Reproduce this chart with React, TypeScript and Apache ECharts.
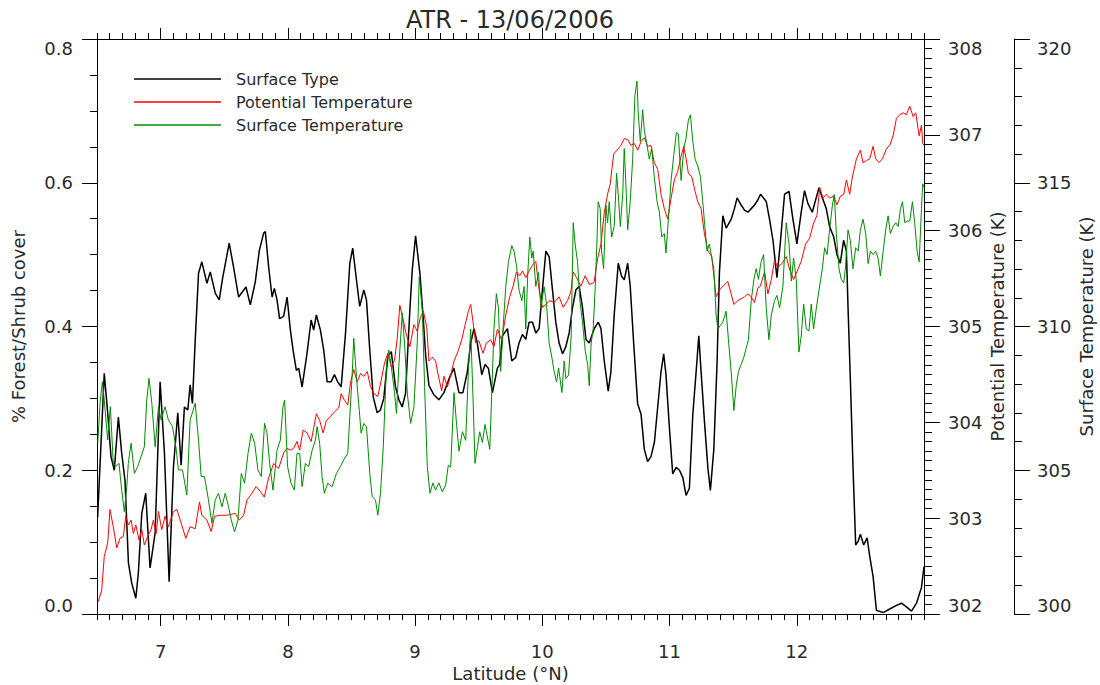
import React, { useEffect, useRef } from "react";
import * as echarts from "echarts";

const titleText = "ATR - 13/06/2006";
const seriesNames = ["Surface Type", "Potential Temperature", "Surface Temperature"];
const latTicks = [7, 8, 9, 10, 11, 12];

// [latitude (°N), forest/shrub cover fraction]
const forestCover: [number, number][] = [
  [6.505,0.135],[6.557,0.335],[6.584,0.28],[6.61,0.219],[6.636,0.2],[6.668,0.274],[6.694,0.224],[6.72,0.186],[6.747,0.071],[6.773,0.043],[6.805,0.022],[6.825,0.057],[6.852,0.14],[6.883,0.168],[6.917,0.064],[6.957,0.113],[6.996,0.323],[7.03,0.224],[7.067,0.045],[7.101,0.205],[7.135,0.28],[7.161,0.207],[7.187,0.288],[7.214,0.284],[7.232,0.319],[7.25,0.293],[7.272,0.381],[7.298,0.474],[7.324,0.49],[7.364,0.46],[7.39,0.476],[7.43,0.446],[7.461,0.437],[7.487,0.467],[7.539,0.516],[7.573,0.483],[7.613,0.441],[7.671,0.455],[7.705,0.43],[7.744,0.462],[7.776,0.506],[7.81,0.53],[7.823,0.532],[7.849,0.483],[7.876,0.441],[7.894,0.453],[7.915,0.437],[7.935,0.411],[7.967,0.414],[7.994,0.441],[8.02,0.395],[8.041,0.367],[8.067,0.339],[8.085,0.342],[8.112,0.316],[8.151,0.363],[8.183,0.409],[8.203,0.395],[8.224,0.416],[8.256,0.395],[8.282,0.367],[8.309,0.323],[8.34,0.323],[8.366,0.333],[8.392,0.323],[8.419,0.316],[8.453,0.39],[8.487,0.488],[8.51,0.509],[8.539,0.465],[8.565,0.428],[8.597,0.451],[8.618,0.437],[8.644,0.367],[8.671,0.302],[8.702,0.28],[8.728,0.284],[8.754,0.3],[8.786,0.358],[8.813,0.365],[8.846,0.316],[8.873,0.298],[8.899,0.288],[8.925,0.307],[8.959,0.423],[8.978,0.479],[9.004,0.526],[9.038,0.474],[9.065,0.409],[9.083,0.36],[9.109,0.318],[9.148,0.305],[9.187,0.298],[9.227,0.308],[9.266,0.327],[9.305,0.342],[9.345,0.308],[9.376,0.308],[9.411,0.337],[9.437,0.377],[9.463,0.397],[9.489,0.377],[9.524,0.333],[9.55,0.347],[9.576,0.342],[9.608,0.308],[9.647,0.342],[9.665,0.347],[9.687,0.387],[9.726,0.397],[9.76,0.352],[9.791,0.357],[9.817,0.377],[9.844,0.389],[9.87,0.382],[9.896,0.406],[9.923,0.406],[9.949,0.391],[9.975,0.397],[10.001,0.451],[10.028,0.505],[10.054,0.497],[10.08,0.451],[10.106,0.406],[10.132,0.377],[10.159,0.362],[10.185,0.372],[10.211,0.391],[10.237,0.426],[10.264,0.451],[10.29,0.456],[10.316,0.426],[10.343,0.382],[10.369,0.377],[10.408,0.397],[10.44,0.406],[10.461,0.397],[10.487,0.352],[10.518,0.31],[10.539,0.337],[10.565,0.416],[10.597,0.488],[10.623,0.47],[10.644,0.465],[10.671,0.488],[10.691,0.456],[10.718,0.377],[10.749,0.293],[10.776,0.278],[10.802,0.229],[10.828,0.212],[10.854,0.219],[10.881,0.239],[10.907,0.288],[10.933,0.337],[10.954,0.362],[10.972,0.333],[10.999,0.259],[11.025,0.195],[11.052,0.204],[11.078,0.2],[11.104,0.19],[11.13,0.165],[11.156,0.175],[11.183,0.278],[11.209,0.337],[11.23,0.387],[11.248,0.337],[11.274,0.269],[11.301,0.204],[11.321,0.172],[11.348,0.229],[11.374,0.352],[11.392,0.475],[11.419,0.554],[11.445,0.537],[11.484,0.549],[11.51,0.564],[11.531,0.579],[11.563,0.569],[11.589,0.562],[11.616,0.559],[11.642,0.564],[11.668,0.569],[11.694,0.576],[11.715,0.584],[11.76,0.574],[11.786,0.549],[11.813,0.52],[11.844,0.468],[11.87,0.515],[11.904,0.584],[11.939,0.588],[11.97,0.549],[12.001,0.515],[12.035,0.559],[12.061,0.589],[12.088,0.571],[12.122,0.559],[12.148,0.576],[12.175,0.593],[12.201,0.579],[12.232,0.564],[12.258,0.539],[12.29,0.525],[12.316,0.5],[12.342,0.488],[12.368,0.52],[12.39,0.505],[12.403,0.426],[12.421,0.327],[12.442,0.204],[12.463,0.096],[12.482,0.101],[12.5,0.111],[12.526,0.096],[12.553,0.106],[12.573,0.081],[12.6,0.052],[12.626,0.005],[12.679,0.002],[12.731,0.007],[12.783,0.012],[12.823,0.015],[12.862,0.01],[12.902,0.004],[12.941,0.015],[12.98,0.037],[13.0,0.066]
];

// [latitude (°N), potential temperature (K)]
const potentialTemp: [number, number][] = [
  [6.51,302.13],[6.537,302.25],[6.557,302.6],[6.584,302.74],[6.602,303.09],[6.628,302.91],[6.655,302.69],[6.681,302.79],[6.707,302.81],[6.726,303.02],[6.746,302.93],[6.768,302.98],[6.786,302.84],[6.805,302.93],[6.831,302.77],[6.852,302.88],[6.872,302.72],[6.899,302.81],[6.925,302.88],[6.943,302.98],[6.965,302.84],[6.983,303.07],[7.009,302.88],[7.035,303.02],[7.061,302.91],[7.101,303.07],[7.128,303.09],[7.161,302.95],[7.198,302.79],[7.232,302.91],[7.272,302.89],[7.306,303.17],[7.324,303.03],[7.364,302.98],[7.398,302.86],[7.424,303.02],[7.469,303.03],[7.521,303.03],[7.587,303.05],[7.618,302.98],[7.652,303.03],[7.679,303.19],[7.718,303.26],[7.75,303.33],[7.783,303.28],[7.815,303.22],[7.849,303.42],[7.888,303.57],[7.928,303.52],[7.967,303.68],[7.994,303.73],[8.02,303.71],[8.046,303.73],[8.072,303.8],[8.093,303.71],[8.12,303.92],[8.151,303.89],[8.183,303.8],[8.203,303.94],[8.224,304.09],[8.25,304.02],[8.277,303.89],[8.303,304.02],[8.335,304.06],[8.366,304.11],[8.4,304.15],[8.419,304.3],[8.445,304.23],[8.471,304.18],[8.492,304.41],[8.518,304.55],[8.545,304.42],[8.571,304.51],[8.597,304.48],[8.624,304.53],[8.65,304.37],[8.676,304.3],[8.707,304.27],[8.734,304.44],[8.76,304.62],[8.786,304.72],[8.813,304.58],[8.839,304.65],[8.86,304.88],[8.88,305.22],[8.907,305.07],[8.925,304.95],[8.959,304.79],[8.991,305.02],[9.017,304.95],[9.043,305.1],[9.065,305.16],[9.091,305.0],[9.109,304.64],[9.135,304.68],[9.161,304.64],[9.187,304.46],[9.209,304.33],[9.227,304.48],[9.254,304.37],[9.28,304.49],[9.306,304.64],[9.34,304.75],[9.366,304.86],[9.392,305.01],[9.419,305.16],[9.437,305.23],[9.455,305.05],[9.476,304.83],[9.502,304.85],[9.534,304.72],[9.561,304.83],[9.594,304.86],[9.62,304.79],[9.647,304.97],[9.681,304.86],[9.713,305.12],[9.744,305.31],[9.77,305.42],[9.797,305.57],[9.823,305.53],[9.844,305.58],[9.87,305.51],[9.896,305.58],[9.923,305.64],[9.949,305.68],[9.975,305.38],[10.002,305.2],[10.028,305.23],[10.059,305.27],[10.093,305.25],[10.132,305.31],[10.164,305.2],[10.198,305.27],[10.224,305.36],[10.243,305.57],[10.269,305.51],[10.303,305.42],[10.337,305.53],[10.369,305.44],[10.395,305.45],[10.408,305.47],[10.435,305.71],[10.461,305.86],[10.487,306.19],[10.513,306.38],[10.534,306.49],[10.561,306.8],[10.587,306.84],[10.618,306.89],[10.644,306.96],[10.671,306.95],[10.697,306.89],[10.723,306.91],[10.75,306.84],[10.776,306.93],[10.802,306.97],[10.828,306.88],[10.854,306.89],[10.88,306.71],[10.907,306.64],[10.933,306.38],[10.959,306.23],[10.986,306.12],[11.012,306.34],[11.038,306.53],[11.065,306.62],[11.091,306.78],[11.112,306.88],[11.13,306.75],[11.148,306.6],[11.175,306.56],[11.201,306.41],[11.222,306.3],[11.248,306.23],[11.274,305.97],[11.301,305.79],[11.332,305.73],[11.366,305.31],[11.392,305.38],[11.419,305.42],[11.458,305.47],[11.484,305.34],[11.506,305.23],[11.537,305.27],[11.563,305.29],[11.589,305.31],[11.616,305.34],[11.642,305.31],[11.668,305.25],[11.694,305.4],[11.713,305.42],[11.747,305.57],[11.773,305.34],[11.8,305.49],[11.825,305.69],[11.852,305.62],[11.886,305.66],[11.917,305.73],[11.943,305.6],[11.975,305.49],[12.001,305.57],[12.035,305.68],[12.069,305.86],[12.101,305.92],[12.132,306.08],[12.159,306.16],[12.18,306.45],[12.206,306.34],[12.232,306.38],[12.258,306.34],[12.29,306.36],[12.316,306.27],[12.343,306.36],[12.369,306.38],[12.39,306.53],[12.416,306.38],[12.437,306.56],[12.469,306.75],[12.5,306.84],[12.521,306.71],[12.547,306.73],[12.573,306.75],[12.6,306.88],[12.62,306.75],[12.647,306.71],[12.673,306.75],[12.706,306.86],[12.731,306.89],[12.757,306.99],[12.783,307.17],[12.809,307.21],[12.836,307.23],[12.862,307.21],[12.888,307.3],[12.915,307.19],[12.935,307.23],[12.962,306.99],[12.98,307.1],[12.99,306.91],[13.0,306.89]
];

// [latitude (°N), surface temperature (K)]
const surfaceTemp: [number, number][] = [
  [6.506,305.94],[6.524,307.33],[6.542,308.08],[6.557,307.44],[6.584,306.05],[6.605,307.21],[6.628,305.24],[6.647,305.13],[6.673,305.24],[6.694,304.31],[6.715,303.56],[6.734,304.43],[6.746,305.24],[6.768,305.94],[6.794,304.89],[6.82,305.13],[6.846,305.47],[6.872,305.82],[6.891,307.44],[6.909,308.2],[6.931,307.33],[6.957,305.82],[6.983,307.21],[7.004,306.75],[7.035,307.21],[7.061,306.75],[7.093,306.52],[7.12,305.82],[7.14,305.01],[7.172,305.01],[7.206,304.14],[7.232,306.75],[7.272,307.33],[7.298,306.05],[7.319,304.78],[7.345,304.78],[7.376,303.97],[7.403,303.16],[7.429,303.97],[7.455,304.2],[7.482,303.73],[7.508,304.2],[7.534,303.73],[7.555,303.27],[7.581,302.86],[7.608,303.27],[7.634,304.89],[7.66,304.55],[7.687,305.59],[7.713,306.29],[7.739,305.94],[7.765,305.01],[7.791,304.78],[7.817,306.63],[7.836,306.29],[7.857,305.24],[7.883,304.31],[7.915,305.7],[7.941,306.05],[7.962,307.21],[7.975,307.44],[7.998,305.13],[8.025,304.55],[8.051,304.31],[8.072,305.59],[8.093,305.59],[8.112,304.43],[8.138,305.24],[8.164,305.13],[8.191,305.7],[8.217,306.05],[8.23,306.52],[8.25,305.94],[8.269,304.78],[8.287,304.2],[8.313,304.55],[8.348,304.43],[8.382,304.89],[8.413,305.13],[8.439,305.36],[8.471,305.59],[8.487,306.86],[8.506,308.37],[8.518,309.59],[8.539,308.25],[8.561,307.1],[8.576,306.29],[8.597,306.63],[8.618,306.52],[8.644,304.89],[8.663,304.08],[8.689,303.97],[8.707,303.44],[8.728,304.2],[8.75,305.82],[8.776,308.72],[8.794,309.18],[8.813,308.6],[8.833,307.91],[8.854,306.98],[8.872,308.6],[8.899,310.46],[8.917,309.42],[8.939,307.68],[8.965,306.63],[8.991,307.21],[9.017,309.42],[9.033,311.73],[9.057,310.57],[9.075,307.91],[9.096,305.13],[9.117,304.2],[9.14,304.56],[9.161,304.31],[9.187,304.56],[9.214,304.25],[9.24,304.49],[9.261,305.17],[9.28,305.11],[9.306,307.7],[9.324,306.71],[9.345,305.66],[9.372,306.34],[9.398,306.04],[9.419,308.44],[9.437,309.91],[9.455,307.57],[9.471,305.24],[9.49,305.79],[9.508,306.34],[9.529,305.97],[9.55,306.59],[9.571,306.09],[9.587,305.73],[9.602,307.57],[9.62,309.91],[9.639,311.14],[9.655,310.65],[9.673,308.44],[9.691,309.91],[9.713,311.39],[9.734,312.25],[9.76,312.81],[9.778,312.62],[9.797,312.13],[9.817,311.27],[9.839,310.9],[9.857,311.39],[9.87,309.91],[9.886,311.88],[9.902,313.11],[9.917,312.38],[9.928,312.62],[9.949,311.39],[9.97,311.88],[9.988,310.65],[10.014,311.39],[10.033,310.78],[10.054,309.42],[10.075,308.93],[10.093,308.44],[10.112,308.07],[10.128,308.56],[10.154,307.7],[10.172,308.8],[10.185,308.19],[10.206,308.31],[10.227,309.67],[10.243,313.61],[10.258,312.87],[10.277,312.25],[10.295,310.9],[10.316,310.16],[10.337,309.17],[10.356,308.68],[10.369,307.94],[10.384,309.42],[10.4,309.91],[10.416,311.39],[10.429,312.87],[10.439,314.34],[10.455,314.1],[10.466,312.62],[10.482,312.01],[10.5,314.22],[10.513,313.61],[10.526,314.34],[10.545,313.11],[10.565,313.48],[10.584,315.33],[10.597,314.59],[10.613,313.48],[10.632,314.59],[10.644,316.19],[10.657,314.96],[10.671,313.36],[10.691,314.34],[10.71,315.82],[10.728,318.04],[10.744,318.53],[10.754,317.42],[10.77,316.44],[10.789,317.54],[10.802,316.81],[10.823,316.31],[10.841,315.82],[10.86,316.19],[10.88,315.21],[10.902,314.34],[10.92,313.98],[10.939,313.11],[10.959,313.23],[10.972,312.56],[10.991,313.73],[11.012,315.08],[11.033,315.95],[11.054,316.75],[11.069,316.69],[11.091,315.08],[11.112,316.19],[11.13,316.56],[11.148,317.18],[11.164,317.36],[11.183,316.44],[11.201,315.82],[11.222,315.58],[11.243,315.21],[11.261,314.34],[11.28,313.36],[11.295,312.62],[11.313,312.87],[11.332,312.38],[11.348,312.01],[11.366,310.4],[11.38,309.91],[11.4,310.04],[11.419,310.16],[11.445,310.53],[11.463,309.54],[11.484,308.44],[11.506,307.08],[11.524,307.94],[11.542,308.44],[11.563,308.68],[11.584,308.93],[11.602,309.24],[11.62,309.54],[11.642,310.9],[11.663,311.64],[11.681,312.01],[11.699,311.64],[11.715,312.13],[11.72,312.25],[11.739,312.5],[11.76,310.65],[11.781,309.54],[11.8,310.4],[11.825,310.9],[11.844,311.08],[11.865,310.65],[11.891,311.39],[11.917,313.61],[11.939,312.87],[11.957,311.58],[11.975,312.38],[11.996,311.64],[12.017,309.11],[12.035,309.67],[12.054,310.78],[12.075,309.91],[12.096,309.85],[12.114,310.78],[12.132,309.91],[12.154,310.65],[12.175,311.27],[12.201,312.01],[12.219,312.74],[12.238,312.5],[12.258,313.36],[12.28,314.22],[12.295,314.59],[12.311,313.23],[12.332,312.01],[12.35,311.64],[12.369,311.51],[12.384,312.13],[12.403,313.36],[12.421,312.99],[12.442,312.01],[12.463,312.74],[12.482,312.62],[12.5,313.36],[12.521,313.73],[12.542,313.23],[12.561,312.19],[12.579,312.62],[12.6,312.5],[12.62,312.62],[12.639,312.38],[12.657,311.76],[12.679,312.62],[12.699,313.36],[12.718,313.85],[12.736,313.23],[12.757,313.48],[12.778,313.61],[12.797,313.48],[12.815,314.1],[12.831,314.34],[12.849,313.61],[12.868,313.67],[12.888,313.67],[12.909,314.34],[12.927,313.61],[12.946,312.62],[12.962,312.25],[12.98,314.1],[12.99,314.96],[13.0,314.84]
];

const FONT = "DejaVu Sans";
const AXIS = "#000";
const TXT = "#2a2a2a";

function baseX(position: "top" | "bottom", major: boolean, extra: any = {}) {
  return {
    type: "value",
    position,
    min: 6.5,
    max: 13,
    ...(major ? {} : { interval: 0.1 }),
    axisLine: { show: !major, onZero: false, lineStyle: { color: AXIS, width: 1 } },
    axisTick: major
      ? { show: true, inside: false, length: position === "top" ? 11 : 12, customValues: latTicks, lineStyle: { color: AXIS, width: 1 } }
      : { show: true, inside: false, length: 6, lineStyle: { color: AXIS, width: 1 } },
    axisLabel: { show: false },
    splitLine: { show: false },
    ...extra,
  };
}

function yLabel(margin: number, formatter?: (v: number) => string) {
  const lbl: any = {
    fontSize: 18,
    color: TXT,
    margin,
    fontFamily: FONT,
    verticalAlignMinLabel: "bottom",
    verticalAlignMaxLabel: "top",
  };
  if (formatter) lbl.formatter = formatter;
  return lbl;
}

export default function App() {
  const ref = useRef<HTMLDivElement>(null);
  useEffect(() => {
    if (!ref.current) return;
    const chart = echarts.init(ref.current, null, { renderer: "svg" });
    const option: any = {
      animation: false,
      backgroundColor: "#fff",
      textStyle: { fontFamily: FONT },
      grid: { left: 97, right: 176, top: 39, bottom: 71, containLabel: false, outerBoundsMode: "none" },
      graphic: [
        {
          type: "text",
          x: 510,
          y: 20,
          style: {
            text: titleText,
            font: `24px "${FONT}"`,
            fill: TXT,
            align: "center",
            verticalAlign: "middle",
          },
        },
      ],
      legend: {
        show: true,
        orient: "vertical",
        left: 134,
        top: 70,
        padding: 0,
        itemGap: 5,
        itemWidth: 87,
        itemHeight: 1.5,
        icon: "rect",
        data: seriesNames,
        textStyle: { fontSize: 16, color: TXT, fontFamily: FONT, lineHeight: 18, padding: [0, 0, 0, 10] },
      },
      xAxis: [
        baseX("bottom", false, {
          axisLabel: { show: true, customValues: latTicks, fontSize: 18, color: TXT, margin: 28, fontFamily: FONT },
          name: "Latitude (°N)",
          nameLocation: "middle",
          nameGap: 50,
          nameMoveOverlap: false,
          nameTextStyle: { fontSize: 18, color: TXT, fontFamily: FONT },
        }),
        baseX("bottom", true),
        baseX("top", false),
        baseX("top", true),
      ],
      yAxis: [
        {
          type: "value",
          position: "left",
          min: 0,
          max: 0.8,
          interval: 0.2,
          axisLine: { show: true, onZero: false, lineStyle: { color: AXIS, width: 1 } },
          axisTick: { show: true, inside: false, length: 15, lineStyle: { color: AXIS } },
          minorTick: { show: true, splitNumber: 4, length: 7, lineStyle: { color: AXIS } },
          axisLabel: yLabel(24, (v: number) => v.toFixed(1)),
          splitLine: { show: false },
          minorSplitLine: { show: false },
          name: "% Forest/Shrub cover",
          nameLocation: "middle",
          nameRotate: 90,
          nameGap: 70,
          nameMoveOverlap: false,
          nameTextStyle: { fontSize: 18, color: TXT, fontFamily: FONT },
        },
        {
          type: "value",
          position: "right",
          min: 302,
          max: 308,
          interval: 1,
          axisLine: { show: true, onZero: false, lineStyle: { color: AXIS, width: 1 } },
          axisTick: { show: true, inside: false, length: 16, lineStyle: { color: AXIS } },
          minorTick: { show: true, splitNumber: 10, length: 8, lineStyle: { color: AXIS } },
          axisLabel: yLabel(24),
          splitLine: { show: false },
          minorSplitLine: { show: false },
          name: "Potential Temperature (K)",
          nameLocation: "middle",
          nameRotate: 90,
          nameGap: 64,
          nameMoveOverlap: false,
          nameTextStyle: { fontSize: 18, color: TXT, fontFamily: FONT },
        },
        {
          type: "value",
          position: "right",
          offset: 90,
          min: 300,
          max: 320,
          interval: 5,
          axisLine: { show: true, onZero: false, lineStyle: { color: AXIS, width: 1 } },
          axisTick: { show: true, inside: false, length: 16, lineStyle: { color: AXIS } },
          minorTick: { show: true, splitNumber: 5, length: 8, lineStyle: { color: AXIS } },
          axisLabel: yLabel(23),
          splitLine: { show: false },
          minorSplitLine: { show: false },
          name: "Surface Temperature (K)",
          nameLocation: "middle",
          nameRotate: 90,
          nameGap: 63,
          nameMoveOverlap: false,
          nameTextStyle: { fontSize: 18, color: TXT, fontFamily: FONT },
        },
      ],
      series: [
        {
          name: seriesNames[0],
          type: "line",
          xAxisIndex: 0,
          yAxisIndex: 0,
          data: forestCover,
          showSymbol: false,
          symbol: "none",
          color: "#000000",
          lineStyle: { color: "#000000", width: 1.5 },
          clip: true,
        },
        {
          name: seriesNames[1],
          type: "line",
          xAxisIndex: 0,
          yAxisIndex: 1,
          data: potentialTemp,
          showSymbol: false,
          symbol: "none",
          color: "#ff0000",
          lineStyle: { color: "#ff0000", width: 1 },
          clip: true,
        },
        {
          name: seriesNames[2],
          type: "line",
          xAxisIndex: 0,
          yAxisIndex: 2,
          data: surfaceTemp,
          showSymbol: false,
          symbol: "none",
          color: "#008c00",
          lineStyle: { color: "#008c00", width: 1 },
          clip: true,
        },
      ],
    };
    chart.setOption(option);
    return () => chart.dispose();
  }, []);
  return (
    <div
      ref={ref}
      style={{ position: "absolute", left: 0, top: 0, width: 1100, height: 685, background: "#fff" }}
    />
  );
}
